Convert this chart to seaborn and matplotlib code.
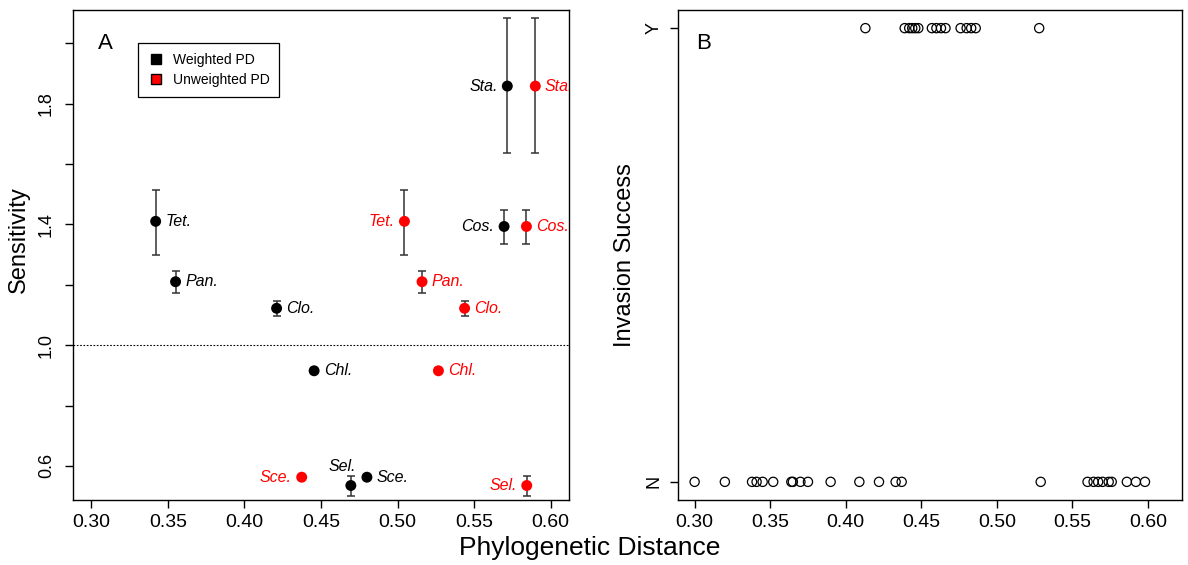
import matplotlib
matplotlib.use("Agg")
import matplotlib.pyplot as plt
from matplotlib.lines import Line2D
import pandas as pd
import seaborn as sns

# panel A: sensitivity vs phylogenetic distance of the invader
species = ["Tet.", "Pan.", "Clo.", "Chl.", "Sce.", "Sel.", "Cos.", "Sta."]
weighted_pd = [0.342, 0.355, 0.421, 0.4455, 0.480, 0.4695, 0.5696, 0.5717]
unweighted_pd = [0.5045, 0.516, 0.5438, 0.5267, 0.4374, 0.5844, 0.5842, 0.590]
sensitivity = [1.41, 1.21, 1.122, 0.915, 0.5625, 0.535, 1.393, 1.858]
sens_low = [1.299, 1.172, 1.097, 0.907, 0.556, 0.499, 1.335, 1.635]
sens_high = [1.515, 1.247, 1.147, 0.923, 0.569, 0.568, 1.448, 2.082]

# panel B: invasion success (Y/N) vs phylogenetic distance
dist_n = [0.300, 0.320, 0.338, 0.341, 0.345, 0.352, 0.364, 0.365, 0.370, 0.375,
          0.390, 0.409, 0.422, 0.433, 0.437, 0.529, 0.560, 0.564, 0.567, 0.570,
          0.574, 0.576, 0.586, 0.592, 0.598]
dist_y = [0.413, 0.439, 0.442, 0.444, 0.446, 0.448, 0.457, 0.460, 0.463, 0.466,
          0.476, 0.480, 0.483, 0.486, 0.528]

weighted_side = ["right", "right", "right", "right", "right", "above", "left", "left"]
unweighted_side = ["left", "right", "right", "right", "left", "left", "right", "right"]

df_a = pd.concat([
    pd.DataFrame({"species": species, "distance": weighted_pd, "sensitivity": sensitivity,
                  "low": sens_low, "high": sens_high, "pd_type": "Weighted PD"}),
    pd.DataFrame({"species": species, "distance": unweighted_pd, "sensitivity": sensitivity,
                  "low": sens_low, "high": sens_high, "pd_type": "Unweighted PD"}),
], ignore_index=True)

df_b = pd.DataFrame({
    "distance": dist_n + dist_y,
    "success": ["N"] * len(dist_n) + ["Y"] * len(dist_y),
})

sns.set_style("ticks")
plt.rcParams["font.family"] = ["Liberation Sans", "DejaVu Sans"]
plt.rcParams.update({"text.color": "black", "axes.labelcolor": "black",
                     "xtick.color": "black", "ytick.color": "black"})
narrow = ["Liberation Sans Narrow", "Liberation Sans", "DejaVu Sans"]
colors = {"Weighted PD": "black", "Unweighted PD": "red"}

fig = plt.figure(figsize=(11.88, 5.65), dpi=100)
ax_a = fig.add_axes([73 / 1188, 65 / 565, 496 / 1188, 490 / 565])
ax_b = fig.add_axes([678 / 1188, 65 / 565, 504 / 1188, 490 / 565])

# ---- panel A
ax_a.axhline(1.0, color="black", ls=(0, (1.5, 1.5)), lw=0.8, zorder=1)
ax_a.errorbar(df_a["distance"], df_a["sensitivity"],
              yerr=[df_a["sensitivity"] - df_a["low"], df_a["high"] - df_a["sensitivity"]],
              fmt="none", ecolor="#333333", elinewidth=1.1, capsize=2.8, capthick=1.1, zorder=2)
sns.scatterplot(data=df_a, x="distance", y="sensitivity", hue="pd_type", palette=colors,
                s=62, linewidth=0, legend=False, ax=ax_a, zorder=3)

for df_part, sides in ((df_a[df_a.pd_type == "Weighted PD"], weighted_side),
                       (df_a[df_a.pd_type == "Unweighted PD"], unweighted_side)):
    for (_, row), side in zip(df_part.iterrows(), sides):
        if side == "right":
            off, ha, va = (7, 0), "left", "center"
        elif side == "left":
            off, ha, va = (-7, 0), "right", "center"
        else:
            off, ha, va = (-6, 8), "center", "bottom"
        ax_a.annotate(row["species"], (row["distance"], row["sensitivity"]), xytext=off,
                      textcoords="offset points", ha=ha, va=va, fontsize=11.5,
                      style="italic", color=colors[row["pd_type"]], annotation_clip=False,
                      clip_on=True)

ax_a.set_xlim(0.288, 0.612)
ax_a.set_ylim(0.487, 2.11)
ax_a.set_xticks([0.30, 0.35, 0.40, 0.45, 0.50, 0.55, 0.60])
ax_a.set_xticklabels([f"{v:.2f}" for v in ax_a.get_xticks()], family=narrow, fontsize=14)
yt = [0.6, 0.8, 1.0, 1.2, 1.4, 1.6, 1.8, 2.0]
ax_a.set_yticks(yt)
ax_a.set_yticklabels(["0.6", "", "1.0", "", "1.4", "", "1.8", ""], rotation=90,
                     va="center", fontsize=13)
ax_a.set_xlabel("")
ax_a.set_ylabel("")
ax_a.text(0.065, 0.932, "A", transform=ax_a.transAxes, fontsize=16, va="center", ha="center")

handles = [Line2D([], [], marker="s", ls="none", color="black", markersize=7.5),
           Line2D([], [], marker="s", ls="none", markerfacecolor="red",
                  markeredgecolor="black", markersize=7.5)]
leg = ax_a.legend(handles, ["Weighted PD", "Unweighted PD"], loc="upper left",
                  bbox_to_anchor=(0.131, 0.933), borderaxespad=0, fontsize=10,
                  frameon=True, fancybox=False, edgecolor="black", framealpha=1,
                  handletextpad=0.6, handlelength=1.2, borderpad=0.7, labelspacing=0.45)
leg.get_frame().set_linewidth(0.9)

# ---- panel B
sns.scatterplot(data=df_b, x="distance", y="success", s=44, facecolors="none",
                edgecolor="black", linewidth=0.9, ax=ax_b)
ax_b.set_xlim(0.289, 0.6225)
ax_b.set_ylim(-0.04, 1.04)
ax_b.set_xticks([0.30, 0.35, 0.40, 0.45, 0.50, 0.55, 0.60])
ax_b.set_xticklabels([f"{v:.2f}" for v in ax_b.get_xticks()], family=narrow, fontsize=14)
ax_b.set_yticks([0, 1])
ax_b.set_yticklabels(["N", "Y"], rotation=90, va="center", fontsize=13)
ax_b.set_xlabel("")
ax_b.set_ylabel("")
ax_b.text(0.05, 0.932, "B", transform=ax_b.transAxes, fontsize=16, va="center", ha="center")

for ax in (ax_a, ax_b):
    for sp in ax.spines.values():
        sp.set_visible(True)
        sp.set_linewidth(1.0)
        sp.set_color("black")
    ax.tick_params(direction="out", length=6, width=1.0, color="black", labelcolor="black")
    ax.tick_params(axis="x", pad=4)
ax_a.tick_params(axis="y", pad=7)
ax_b.tick_params(axis="y", pad=5)

fig.text(590 / 1188, 1 - 548 / 565, "Phylogenetic Distance", ha="center", va="center",
         family=narrow, fontsize=19)
fig.text(19 / 1188, 1 - 240 / 565, "Sensitivity", rotation=90, ha="center", va="center",
         fontsize=17)
fig.text(625 / 1188, 1 - 255 / 565, "Invasion Success", rotation=90, ha="center",
         va="center", fontsize=17)

fig.savefig("out.png", dpi=100, facecolor="white")
